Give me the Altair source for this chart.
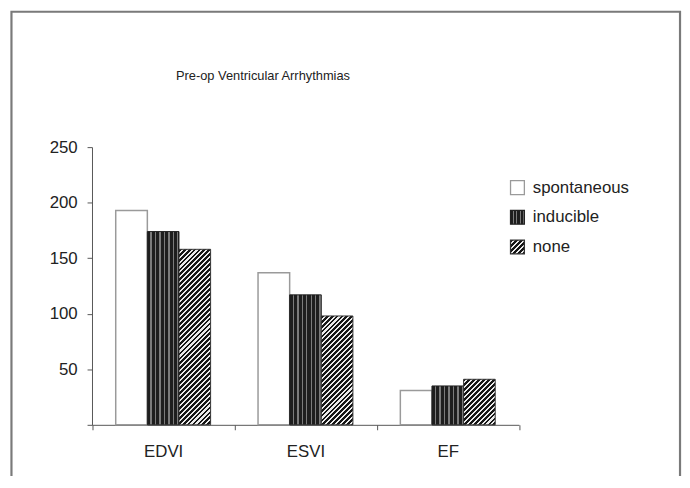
import math
import json
import altair as alt
import pandas as pd

# ---------------- data ----------------
categories = ["EDVI", "ESVI", "EF"]
series = ["spontaneous", "inducible", "none"]
spontaneous = [193, 137, 31]
inducible = [174, 117, 35]
none_vals = [158, 98, 41]
y_ticks = [0, 50, 100, 150, 200, 250]
title_text = "Pre-op Ventricular Arrhythmias"

rows = []
for s, vals in zip(series, [spontaneous, inducible, none_vals]):
    for c, v in zip(categories, vals):
        rows.append({"cat": c, "series": s, "value": v})
df = pd.DataFrame(rows)

# ---------------- layout / style ----------------
FONT = "Liberation Sans, Arial, sans-serif"
FS = 17
TEXT = "#222222"
AXIS = "#555555"
VIEW_W, VIEW_H = 676.5, 500
X_RANGE = [81.5, 513.5]
Y_RANGE = [418, 137]
Y_MAX = 250
PXU = (Y_RANGE[0] - Y_RANGE[1]) / Y_MAX
BAR_W = (X_RANGE[1] - X_RANGE[0]) / len(categories) / 4.5


def hatch(w, h, period=5.0, dark_frac=0.58, dark="#161616", light="#ececec"):
    L = w + h
    k = L / (w * w + h * h)
    stops = []
    n = math.ceil(L / period)
    for i in range(n):
        a = min(i * period / L, 1)
        b = min((i * period + period * dark_frac) / L, 1)
        c = min((i + 1) * period / L, 1)
        stops += [{"offset": round(a, 5), "color": dark}, {"offset": round(b, 5), "color": dark},
                  {"offset": round(b, 5), "color": light}, {"offset": round(c, 5), "color": light}]
    return {"gradient": "linear", "x1": 0, "y1": 0, "x2": k * w, "y2": k * h, "stops": stops}


def vstripes(w, period=4.5, line=1.4, dark="#1e1e1e", light="#7c7c7c"):
    stops = []
    n = math.ceil(w / period)
    for i in range(n):
        a = min(i * period / w, 1)
        b = min((i * period + period - line) / w, 1)
        c = min((i + 1) * period / w, 1)
        stops += [{"offset": round(a, 5), "color": dark}, {"offset": round(b, 5), "color": dark},
                  {"offset": round(b, 5), "color": light}, {"offset": round(c, 5), "color": light}]
    return {"gradient": "linear", "x1": 0, "y1": 0, "x2": 1, "y2": 0, "stops": stops}


SYM = 14
# fill scale range: plain colour for "spontaneous", square-pattern gradients for the others
fill_range = [
    "#ffffff",
    {"expr": json.dumps(vstripes(SYM, period=3.5, line=1.2))},
    {"expr": json.dumps(hatch(SYM, SYM, period=5.0))},
]
stroke_range = ["#9a9a9a", "#222222", "#333333"]

legend = alt.Legend(
    title=None, orient="none", legendX=503.5, legendY=169.5,
    symbolType="square", symbolSize=SYM * SYM,
    symbolStrokeWidth=1.3, symbolOpacity=1,
    labelFont=FONT, labelFontSize=FS, labelColor=TEXT, labelOffset=7,
    rowPadding=9,
)

xaxis = alt.Axis(
    title=None, labelAngle=0, tickBand="extent", tickSize=5, tickColor=AXIS,
    domainColor=AXIS, domainWidth=1, labelFont=FONT, labelFontSize=FS,
    labelColor=TEXT, labelPadding=14, offset=-(VIEW_H - Y_RANGE[0]), grid=False,
)
yaxis = alt.Axis(
    title=None, values=y_ticks, tickSize=5, tickColor=AXIS, domainColor=AXIS,
    domainWidth=1, labelFont=FONT, labelFontSize=FS, labelColor=TEXT,
    labelPadding=10, offset=-X_RANGE[0], grid=False,
    labelExpr="datum.value == 0 ? '' : datum.label",
)

base = alt.Chart(df).encode(
    x=alt.X("cat:N", sort=categories,
            scale=alt.Scale(domain=categories, range=X_RANGE, paddingInner=0, paddingOuter=0),
            axis=xaxis),
    xOffset=alt.XOffset("series:N", sort=series,
                        scale=alt.Scale(domain=series, paddingInner=0, paddingOuter=0.75)),
    y=alt.Y("value:Q", scale=alt.Scale(domain=[0, Y_MAX], range=Y_RANGE, nice=False),
            axis=yaxis),
)

layers = [
    base.transform_filter(alt.datum.series == "spontaneous")
    .mark_bar(strokeWidth=1.5)
    .encode(
        fill=alt.Fill("series:N", scale=alt.Scale(domain=series, range=fill_range), legend=legend),
        stroke=alt.Stroke("series:N", scale=alt.Scale(domain=series, range=stroke_range), legend=legend),
    ),
    base.transform_filter(alt.datum.series == "inducible")
    .mark_bar(fill=vstripes(BAR_W), stroke="#222222", strokeWidth=1),
]
for c, v in zip(categories, none_vals):
    layers.append(
        base.transform_filter((alt.datum.series == "none") & (alt.datum.cat == c))
        .mark_bar(fill=hatch(BAR_W, v * PXU), stroke="#333333", strokeWidth=1)
    )

chart = alt.layer(*layers).properties(
    width=VIEW_W, height=VIEW_H,
    autosize=alt.AutoSizeParams(type="none"),
    padding={"left": 3.5, "top": 1, "right": 2, "bottom": -33},
    title=alt.TitleParams(
        text=title_text, anchor="start", frame="group", dx=166.5, offset=-78,
        baseline="middle", font=FONT, fontSize=13, fontWeight="normal", color=TEXT,
    ),
).configure(
    background="white",
    view=alt.ViewConfig(stroke="#7a7a7a", strokeWidth=2.2, fill="white"),
)

chart.save("out.html", embed_options={"renderer": "svg", "actions": False})
